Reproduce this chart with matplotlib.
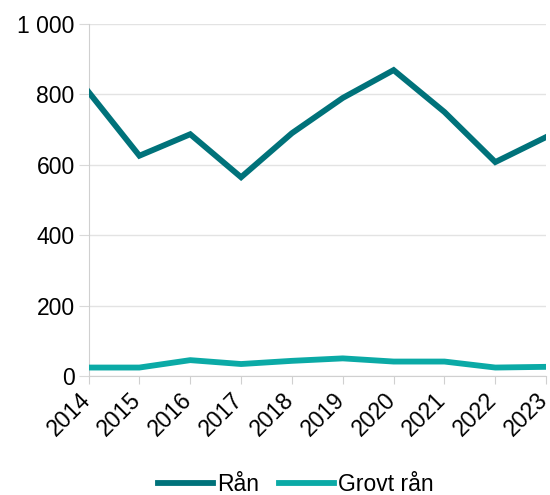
import matplotlib.pyplot as plt
import matplotlib.transforms as mtransforms

plt.rcParams['font.family'] = ['Liberation Sans', 'DejaVu Sans']

years = [2014, 2015, 2016, 2017, 2018, 2019, 2020, 2021, 2022, 2023]
ran = [806, 625, 686, 564, 689, 789, 868, 749, 607, 678]
grovt_ran = [24, 24, 45, 34, 43, 50, 41, 41, 24, 26]
yticks = [0, 200, 400, 600, 800, 1000]
ytick_labels = ['0', '200', '400', '600', '800', '1 000']

fig = plt.figure(figsize=(5.5, 4.95), dpi=100)
ax = fig.add_axes([0.161, 0.2404, 0.832, 0.712])

ax.plot(years, ran, color='#00727A', lw=4.2, label='Rån', solid_joinstyle='miter', zorder=3)
ax.plot(years, grovt_ran, color='#0BAAA6', lw=4.2, label='Grovt rån', zorder=3)

ax.set_xlim(years[0], years[-1])
ax.set_ylim(0, 1000)
ax.set_yticks(yticks)
ax.set_yticklabels(ytick_labels)
ax.set_xticks(years)

ax.grid(axis='y', color='#e3e3e3', lw=1)
ax.set_axisbelow(True)
for s in ['top', 'right']:
    ax.spines[s].set_visible(False)
ax.spines['left'].set_color('#d0d0d0')
ax.spines['bottom'].set_color('#d0d0d0')
ax.tick_params(axis='y', length=7, color='#d9d9d9', labelsize=16.5, pad=3)
ax.tick_params(axis='x', length=6, color='#d0d0d0', labelsize=16.5, pad=3)

ax.set_xticklabels([str(y) for y in years], rotation=45, ha='right', va='top',
                   rotation_mode='anchor')
shift = mtransforms.ScaledTranslation(-10 / 100, 0, fig.dpi_scale_trans)
for lab in ax.get_xticklabels():
    lab.set_transform(lab.get_transform() + shift)

fig.legend(loc='lower center', bbox_to_anchor=(0.538, -0.043), ncol=2, frameon=False,
           fontsize=16.5, handlelength=2.4, handletextpad=0.15, columnspacing=0.9)

fig.savefig('out.png', dpi=100)
